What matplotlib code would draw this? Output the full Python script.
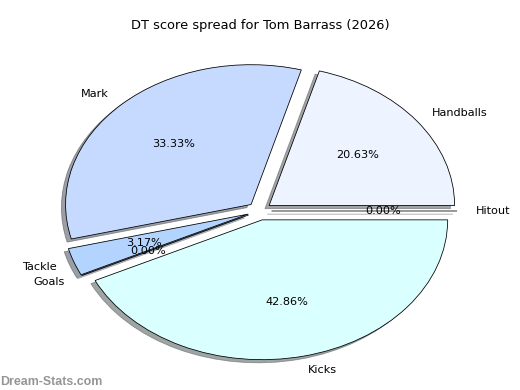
#!/usr/bin/env python3
"""DT score spread pie chart for Tom Barrass (2026)"""

import matplotlib
matplotlib.use("Agg")
import matplotlib.pyplot as plt

# DT points by stat type (gives the percentages shown)
labels = ['Handballs', 'Mark', 'Tackle', 'Goals', 'Kicks', 'Hitout']
points = [13, 21, 2, 0, 27, 0]
colours = ['#edf3ff', '#c6daff', '#b2d4ff', '#a8c8ff', '#daffff', '#e0e8ff']

title = 'DT score spread for Tom Barrass (2026)'
watermark = 'Dream-Stats.com'


def main():
    fig = plt.figure(figsize=(6.4, 4.8), dpi=81.25)
    ax = fig.add_axes([0, 0, 1, 1])

    ax.pie(points, labels=labels, colors=colours, autopct='%1.2f%%',
           explode=[0.065] * len(points), startangle=0, shadow=True,
           wedgeprops={'edgecolor': 'black', 'linewidth': 0.7})

    # elliptical pie, filling the figure like the original
    rx, ry = 185.5, 139.8
    cx, cy = 259.5, 211.0
    ax.set_aspect('auto')
    ax.set_xlim(-cx / rx, (520 - cx) / rx)
    ax.set_ylim(-(390 - cy) / ry, cy / ry)
    ax.axis('off')

    fig.text(0.5, 0.934, title, ha='center', va='center', fontsize=11.5)
    fig.text(0.0, 0.013, watermark, ha='left', va='baseline',
             fontsize=11, fontweight='bold', color='#959595',
             family=['Liberation Sans', 'DejaVu Sans'])

    fig.savefig('out.png', dpi=81.25)


if __name__ == "__main__":
    main()
